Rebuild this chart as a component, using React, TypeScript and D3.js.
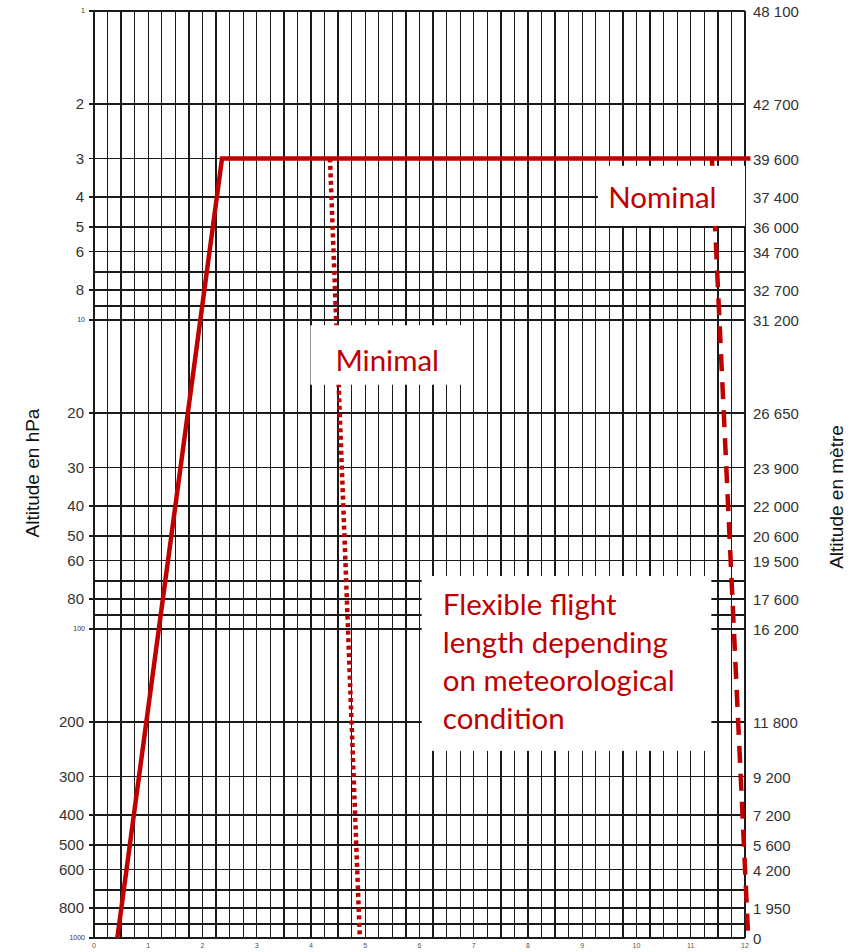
import * as d3 from "d3";

// pressure levels labelled on the left axis (hPa) and the matching altitudes on the right
const pressureLevels = [1, 2, 3, 4, 5, 6, 8, 10, 20, 30, 40, 50, 60, 80, 100, 200, 300, 400, 500, 600, 800, 1000];
const altitudeLabels = [
  "48 100", "42 700", "39 600", "37 400", "36 000", "34 700", "32 700", "31 200",
  "26 650", "23 900", "22 000", "20 600", "19 500", "17 600", "16 200",
  "11 800", "9 200", "7 200", "5 600", "4 200", "1 950", "0",
];
const smallPressureLabels = [1, 10, 100, 1000];
const hourTicks = [0, 1, 2, 3, 4, 5, 6, 7, 8, 9, 10, 11, 12];

// flight profiles: time (x) and pressure (hPa)
const ascentTime = [0.43, 2.36, 12.1];
const ascentPressure = [1000, 3, 3];
const minimalTime = [4.35, 4.9];
const minimalPressure = [3, 1000];
const nominalTime = [11.39, 12.06];
const nominalPressure = [3, 1000];

const RED = "#c00000";
const W = 859;
const H = 952;

const x = d3.scaleLinear().domain([0, 12]).range([94, 745]);
const y = d3.scaleLog().domain([1, 1000]).range([11, 938]);

const line = d3.line<[number, number]>()
  .x(d => x(d[0]))
  .y(d => y(d[1]));

const zip = (a: number[], b: number[]) => a.map((v, i) => [v, b[i]] as [number, number]);

// white boxes holding the annotations, in data coordinates
const boxes = [
  { x0: 3.99, x1: 6.78, p0: 10.4, p1: 16.2, lines: ["Minimal"], tx: 4.45, p: 14.6 },
  { x0: 9.29, x1: 12, p0: 3.17, p1: 4.96, lines: ["Nominal"], tx: 9.48, p: 4.34 },
  { x0: 6.04, x1: 11.38, p0: 67.4, p1: 248, lines: ["Flexible flight", "length depending", "on meteorological", "condition"], tx: 6.43, p: 90 },
];

export default function App() {
  const vGrid = d3.range(0, 12.001, 0.25);
  const hGrid = y.ticks();
  const font = "'Liberation Sans', Arial, sans-serif";

  return (
    <svg width={W} height={H} style={{ position: "absolute", left: 0, top: 0, background: "#fff" }}>
      <g stroke="#1a1a1a" strokeWidth={1.3} shapeRendering="crispEdges">
        {vGrid.map(v => (
          <line key={"v" + v} x1={x(v)} x2={x(v)} y1={y(1)} y2={y(1000)} />
        ))}
        {hGrid.map(p => (
          <line key={"h" + p} x1={x(0)} x2={x(12)} y1={y(p)} y2={y(p)} />
        ))}
        {pressureLevels.map(p => (
          <line key={"t" + p} x1={x(0) - 5} x2={x(0)} y1={y(p)} y2={y(p)} />
        ))}
      </g>

      <path d={line(zip(ascentTime, ascentPressure)) || ""} fill="none" stroke={RED} strokeWidth={4.5} />
      <path d={line(zip(minimalTime, minimalPressure)) || ""} fill="none" stroke={RED} strokeWidth={4.5} strokeDasharray="4 3.5" />
      <path d={line(zip(nominalTime, nominalPressure)) || ""} fill="none" stroke={RED} strokeWidth={4.5} strokeDasharray="17 11" />

      {boxes.map((b, i) => (
        <g key={i}>
          <rect x={x(b.x0)} y={y(b.p0)} width={x(b.x1) - x(b.x0)} height={y(b.p1) - y(b.p0)} fill="#fff" />
          {b.lines.map((t, j) => (
            <text key={j} x={x(b.tx)} y={y(b.p) + j * 38} fill={RED} fontFamily="Lato, sans-serif" fontSize={29.5}>
              {t}
            </text>
          ))}
        </g>
      ))}

      {/* left axis labels */}
      <g fontFamily={font} fill="#333" textAnchor="end">
        {pressureLevels.map(p => {
          const small = smallPressureLabels.includes(p);
          return (
            <text key={p} x={small ? 85 : 84} y={y(p)} dy={small ? "0.35em" : "0.36em"} fontSize={small ? 7 : 15}>
              {p}
            </text>
          );
        })}
      </g>

      {/* right axis labels */}
      <g fontFamily={font} fill="#333" fontSize={15}>
        {pressureLevels.map((p, i) => (
          <text key={p} x={753} y={y(p) + 1} dy="0.36em">
            {altitudeLabels[i]}
          </text>
        ))}
      </g>

      {/* bottom axis labels */}
      <g fontFamily={font} fill="#555" fontSize={7} textAnchor="middle">
        {hourTicks.map(h => (
          <text key={h} x={x(h)} y={948}>
            {h}
          </text>
        ))}
      </g>

      <text transform={`translate(39,473) rotate(-90)`} textAnchor="middle" fontFamily={font} fontSize={19} fill="#111">
        Altitude en hPa
      </text>
      <text transform={`translate(843,497) rotate(-90)`} textAnchor="middle" fontFamily={font} fontSize={19} fill="#111">
        Altitude en mètre
      </text>
    </svg>
  );
}
